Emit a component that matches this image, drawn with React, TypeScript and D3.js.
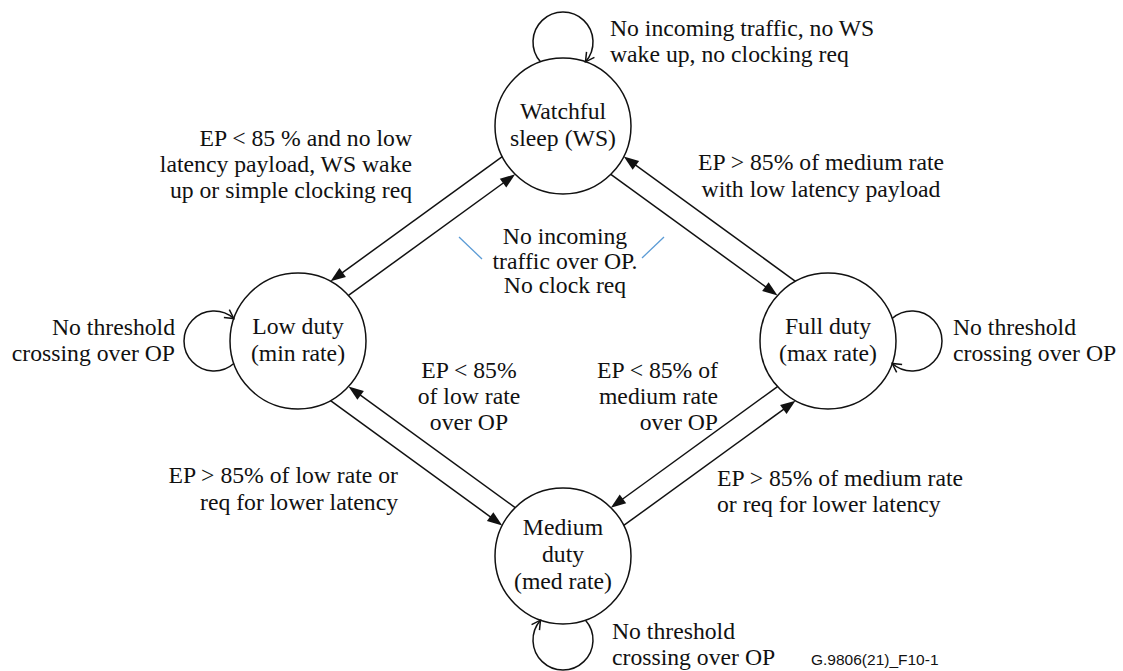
import { useMemo } from "react";
import * as d3 from "d3";

const WIDTH = 1123;
const HEIGHT = 671;
const R = 68; // state circle radius
const LOOP_R = 30;
const LOOP_DIST = 84;
const LANE = 11; // half gap between the two parallel transitions
const LINE_ANGLE = (36 * Math.PI) / 180;
const SERIF = '"Liberation Serif", "Times New Roman", "DejaVu Serif", Times, serif';
const SANS = '"Liberation Sans", Arial, sans-serif';
const FS = 23.7;

// states
const STATE_IDS = ["ws", "low", "full", "med"];
const STATE_NAMES = [
  ["Watchful", "sleep (WS)"],
  ["Low duty", "(min rate)"],
  ["Full duty", "(max rate)"],
  ["Medium", "duty", "(med rate)"],
];
const STATE_COL = [1, 0, 2, 1];
const STATE_ROW = [0, 1, 1, 2];

// self transitions
const LOOP_SIDE = ["top", "left", "right", "bottom"];
const LOOP_LABELS = [
  ["No incoming traffic, no WS", "wake up, no clocking req"],
  ["No threshold", "crossing over OP"],
  ["No threshold", "crossing over OP"],
  ["No threshold", "crossing over OP"],
];

// transitions between states
const EDGE_FROM = ["ws", "low", "ws", "full", "low", "med", "full", "med"];
const EDGE_TO = ["low", "ws", "full", "ws", "med", "low", "med", "full"];

const LABEL_LINES = [
  ["EP < 85 % and no low", "latency payload, WS wake", "up or simple clocking req"],
  ["EP > 85% of medium rate", "with low latency payload"],
  ["No incoming", "traffic over OP.", "No clock req"],
  ["EP < 85%", "of low rate", "over OP"],
  ["EP < 85% of", "medium rate", "over OP"],
  ["EP > 85% of low rate or", "req for lower latency"],
  ["EP > 85% of medium rate", "or req for lower latency"],
];

const FIGURE_ID = "G.9806(21)_F10-1";

// layout of text blocks
const LABEL_POS = [
  { x: 412, y: 146, anchor: "end", lead: 26 },
  { x: 821, y: 170, anchor: "middle", lead: 27 },
  { x: 565, y: 244, anchor: "middle", lead: 24.5 },
  { x: 469, y: 378, anchor: "middle", lead: 26 },
  { x: 718, y: 378, anchor: "end", lead: 26 },
  { x: 398, y: 483, anchor: "end", lead: 27 },
  { x: 717, y: 486, anchor: "start", lead: 26 },
];
const LOOP_LABEL_POS = [
  { x: 610, y: 36, anchor: "start" },
  { x: 175, y: 335, anchor: "end" },
  { x: 953, y: 335, anchor: "start" },
  { x: 612, y: 639, anchor: "start" },
];
// blue leader lines next to the centre label, relative to its anchor
const LEADERS = [
  [[-106, -7], [-83, 15]],
  [[77, 14], [99, -7]],
];

const SIDE_ANGLE: Record<string, number> = {
  top: -Math.PI / 2,
  left: Math.PI,
  right: 0,
  bottom: Math.PI / 2,
};

type P = [number, number];

const circleHit = (p0: P, u: P, c: P, r: number, far: boolean): P => {
  const w: P = [p0[0] - c[0], p0[1] - c[1]];
  const b = w[0] * u[0] + w[1] * u[1];
  const disc = Math.sqrt(Math.max(0, b * b - (w[0] * w[0] + w[1] * w[1]) + r * r));
  const t = far ? -b + disc : -b - disc;
  return [p0[0] + t * u[0], p0[1] + t * u[1]];
};

export default function App() {
  const xScale = d3.scaleLinear().domain([0, 2]).range([298, 828]);
  const yScale = d3.scaleLinear().domain([0, 2]).range([126, 556]);

  const centers = useMemo(() => {
    const m = new Map<string, P>();
    STATE_IDS.forEach((id, i) => m.set(id, [xScale(STATE_COL[i]), yScale(STATE_ROW[i])]));
    return m;
  }, []);

  const edges = EDGE_FROM.map((from, i) => {
    const to = EDGE_TO[i];
    const fromRow = STATE_ROW[STATE_IDS.indexOf(from)];
    const tId = fromRow === 1 ? to : from; // top or bottom node
    const sId = fromRow === 1 ? from : to; // side node
    const T = centers.get(tId)!;
    const S = centers.get(sId)!;
    const u: P = [
      Math.sign(S[0] - T[0]) * Math.cos(LINE_ANGLE),
      Math.sign(S[1] - T[1]) * Math.sin(LINE_ANGLE),
    ];
    const v: P = from === tId ? u : [-u[0], -u[1]];
    const right: P = [-v[1], v[0]];
    const p0: P = [T[0] + LANE * right[0], T[1] + LANE * right[1]];
    const pT = circleHit(p0, u, T, R, true);
    const pS = circleHit(p0, u, S, R, false);
    const start = from === tId ? pT : pS;
    const tip = from === tId ? pS : pT;
    const len = 15;
    const hw = 5.5;
    const base: P = [tip[0] - len * v[0], tip[1] - len * v[1]];
    const head = d3.line()([
      tip,
      [base[0] + hw * right[0], base[1] + hw * right[1]],
      [base[0] - hw * right[0], base[1] - hw * right[1]],
    ]) + "Z";
    return { start, end: [base[0] + 2 * v[0], base[1] + 2 * v[1]] as P, head };
  });

  const loops = STATE_IDS.map((id, i) => {
    const c = centers.get(id)!;
    const phi = SIDE_ANGLE[LOOP_SIDE[i]];
    const lc: P = [c[0] + LOOP_DIST * Math.cos(phi), c[1] + LOOP_DIST * Math.sin(phi)];
    const alpha = Math.acos(
      (LOOP_DIST * LOOP_DIST + LOOP_R * LOOP_R - R * R) / (2 * LOOP_DIST * LOOP_R)
    );
    const a0 = phi + Math.PI + alpha;
    const a1 = phi + Math.PI - alpha + 2 * Math.PI;
    const p = d3.path();
    p.moveTo(lc[0] + LOOP_R * Math.cos(a0), lc[1] + LOOP_R * Math.sin(a0));
    p.arc(lc[0], lc[1], LOOP_R, a0, a1, false);
    const tip: P = [lc[0] + LOOP_R * Math.cos(a1), lc[1] + LOOP_R * Math.sin(a1)];
    const tang = Math.atan2(Math.cos(a1), -Math.sin(a1));
    const back = tang + Math.PI - 0.12;
    const arm = 10;
    const spread = 0.5;
    const head = d3.line()([
      [tip[0] + arm * Math.cos(back - spread), tip[1] + arm * Math.sin(back - spread)],
      tip,
      [tip[0] + arm * Math.cos(back + spread), tip[1] + arm * Math.sin(back + spread)],
    ])!;
    return { arc: p.toString(), head };
  });

  const textBlock = (lines: string[], x: number, y: number, anchor: string, lead: number, key: string) => (
    <text key={key} x={x} y={y} textAnchor={anchor} style={{ fontFamily: SERIF, fontSize: FS }} fill="#111">
      {lines.map((l, j) => (
        <tspan key={j} x={x} y={y + j * lead}>
          {l}
        </tspan>
      ))}
    </text>
  );

  const mid = LABEL_POS[2];

  return (
    <svg
      width={WIDTH}
      height={HEIGHT}
      style={{ position: "absolute", left: 0, top: 0, background: "#fff" }}
    >
      <rect width={WIDTH} height={HEIGHT} fill="#fff" />
      {STATE_IDS.map((id, i) => {
        const c = centers.get(id)!;
        const n = STATE_NAMES[i].length;
        return (
          <g key={id}>
            <circle cx={c[0]} cy={c[1]} r={R} fill="none" stroke="#111" strokeWidth={1.5} />
            {STATE_NAMES[i].map((l, j) => (
              <text
                key={j}
                x={c[0]}
                y={c[1] + (j - (n - 1) / 2) * 27 + 6}
                textAnchor="middle"
                style={{ fontFamily: SERIF, fontSize: FS }}
                fill="#111"
              >
                {l}
              </text>
            ))}
          </g>
        );
      })}
      {edges.map((e, i) => (
        <g key={i}>
          <line x1={e.start[0]} y1={e.start[1]} x2={e.end[0]} y2={e.end[1]} stroke="#111" strokeWidth={1.5} />
          <path d={e.head} fill="#111" />
        </g>
      ))}
      {loops.map((l, i) => (
        <g key={i}>
          <path d={l.arc} fill="none" stroke="#111" strokeWidth={1.5} />
          <path d={l.head} fill="none" stroke="#111" strokeWidth={1.5} />
        </g>
      ))}
      {LEADERS.map((s, i) => (
        <line
          key={i}
          x1={mid.x + s[0][0]}
          y1={mid.y + s[0][1]}
          x2={mid.x + s[1][0]}
          y2={mid.y + s[1][1]}
          stroke="#5b9bd5"
          strokeWidth={1.3}
        />
      ))}
      {LABEL_LINES.map((lines, i) =>
        textBlock(lines, LABEL_POS[i].x, LABEL_POS[i].y, LABEL_POS[i].anchor, LABEL_POS[i].lead, "l" + i)
      )}
      {LOOP_LABELS.map((lines, i) =>
        textBlock(lines, LOOP_LABEL_POS[i].x, LOOP_LABEL_POS[i].y, LOOP_LABEL_POS[i].anchor, 26, "s" + i)
      )}
      <text x={811} y={665} style={{ fontFamily: SANS, fontSize: 15.5 }} fill="#111">
        {FIGURE_ID}
      </text>
    </svg>
  );
}
